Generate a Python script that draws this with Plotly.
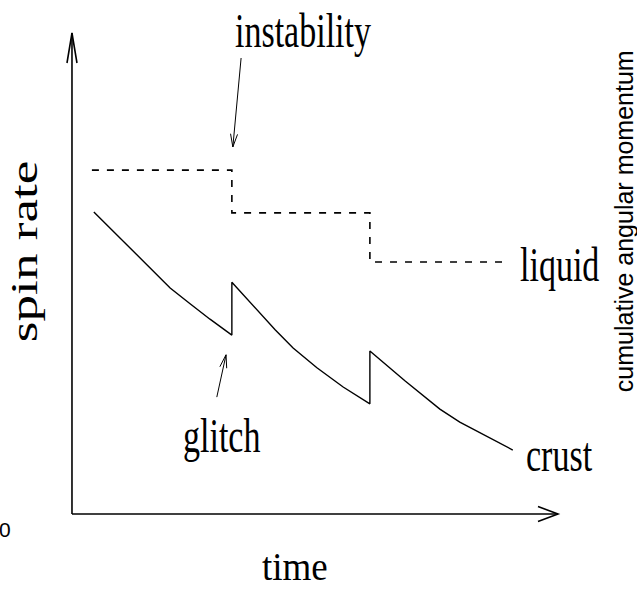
import plotly.graph_objects as go

# Crust spin rate: smooth spin-down interrupted by two glitches (arbitrary units)
crust_time = [0.45, 2.02, 2.43, 2.84, 3.29,
              3.29, 4.18, 4.55, 5.04, 5.58, 6.13,
              6.13, 6.85, 7.57, 7.98, 9.07]
crust_rate = [6.28, 4.70, 4.37, 4.05, 3.72,
              4.82, 3.83, 3.45, 3.04, 2.64, 2.29,
              3.39, 2.77, 2.18, 1.91, 1.33]

# Superfluid (liquid) spin rate: constant between instabilities, steps down at each
liquid_time = [0.41, 3.29, 3.29, 6.13, 6.13, 8.91]
liquid_rate = [7.15, 7.15, 6.26, 6.26, 5.24, 5.24]

# Extent of the drawn axes (arrow tips)
time_max = 10.0
rate_max = 10.0

# Text labels: (text, time, rate)
curve_labels = [("instability", 4.76, 10.06),
                ("liquid", 10.04, 5.18),
                ("crust", 10.04, 1.23),
                ("glitch", 3.07, 1.64)]
axis_titles = [("time", 4.59, -1.10, 0), ("spin rate", -0.98, 5.47, -90)]
side_labels = [("cumulative angular momentum", 11.36, 6.09, -90),
               ("0", -1.37, -0.33, 0)]

# Pointer arrows: (from time, from rate, to time, to rate)
pointers = [(3.48, 9.48, 3.31, 7.63),   # instability
            (2.98, 2.43, 3.17, 3.31)]   # glitch

W, H = 637, 590
XR = [-1.481, 11.626]
YR = [-1.580, 10.686]
PX = W / (XR[1] - XR[0])   # pixels per time unit
PY = H / (YR[1] - YR[0])   # pixels per rate unit

SERIF = "Liberation Serif"
SANS = "Liberation Sans"


def open_head(t0, w0, t1, w1, length, half):
    """Open V arrowhead at (t1, w1) pointing away from (t0, w0); sizes in px."""
    dx = (t1 - t0) * PX
    dy = (w1 - w0) * PY
    n = (dx * dx + dy * dy) ** 0.5
    ux, uy = dx / n, dy / n
    bx, by = -ux * length, -uy * length
    px, py = -uy * half, ux * half
    a = (t1 + (bx + px) / PX, w1 + (by + py) / PY)
    b = (t1 + (bx - px) / PX, w1 + (by - py) / PY)
    return f"M{a[0]},{a[1]} L{t1},{w1} L{b[0]},{b[1]}"


fig = go.Figure()

fig.add_trace(go.Scatter(x=liquid_time, y=liquid_rate, mode="lines",
                         line=dict(color="black", width=1.6, dash="7px,8px"),
                         hoverinfo="skip", showlegend=False))
fig.add_trace(go.Scatter(x=crust_time, y=crust_rate, mode="lines",
                         line=dict(color="black", width=1.4),
                         hoverinfo="skip", showlegend=False))

shapes = []
axis_line = dict(color="black", width=1.6)
# axes with open arrowheads
shapes.append(dict(type="line", x0=0, y0=0, x1=0, y1=rate_max, line=axis_line))
shapes.append(dict(type="line", x0=0, y0=0, x1=time_max, y1=0, line=axis_line))
shapes.append(dict(type="path", path=open_head(0, 0, 0, rate_max, 30, 5), line=axis_line))
shapes.append(dict(type="path", path=open_head(0, 0, time_max, 0, 20, 7.5), line=axis_line))
# pointer arrows
ptr_line = dict(color="black", width=1.0)
for t0, w0, t1, w1 in pointers:
    shapes.append(dict(type="line", x0=t0, y0=w0, x1=t1, y1=w1, line=ptr_line))
    shapes.append(dict(type="path", path=open_head(t0, w0, t1, w1, 13, 3.5), line=ptr_line))

annotations = []
stretch = []   # vertical on-screen stretch applied to each label
for text, t, w in curve_labels:
    annotations.append(dict(text=text, x=t, y=w, xref="x", yref="y", showarrow=False,
                            xanchor="center", yanchor="middle",
                            font=dict(family=SERIF, size=34, color="black")))
    stretch.append(1.4)
for text, t, w, ang in axis_titles:
    annotations.append(dict(text=text, x=t, y=w, xref="x", yref="y", showarrow=False,
                            xanchor="center", yanchor="middle", textangle=ang,
                            font=dict(family=SERIF, size=38 if ang else 37, color="black")))
    stretch.append(1.4 if ang else 1.08)
for text, t, w, ang in side_labels:
    annotations.append(dict(text=text, x=t, y=w, xref="x", yref="y", showarrow=False,
                            xanchor="center", yanchor="middle", textangle=ang,
                            font=dict(family=SANS, size=25 if ang else 21, color="black")))
    stretch.append(1.0)

fig.update_layout(
    width=W, height=H,
    margin=dict(l=0, r=0, t=0, b=0),
    paper_bgcolor="white", plot_bgcolor="white",
    xaxis=dict(range=XR, visible=False, fixedrange=True),
    yaxis=dict(range=YR, visible=False, fixedrange=True),
    shapes=shapes, annotations=annotations,
    showlegend=False,
    meta={"stretch": stretch},
)

# Tall, narrow serif lettering: stretch labels vertically on screen
post = """
var gd = document.getElementById('{plot_id}');
var anns = (gd.layout && gd.layout.annotations) || [];
var st = (gd.layout.meta && gd.layout.meta.stretch) || [];
gd.querySelectorAll('g.annotation').forEach(function(g){
  var i = +g.getAttribute('data-index');
  var a = anns[i];
  var S = st[i] || 1;
  if (!a || S === 1) return;
  var t = g.querySelector('text.annotation-text');
  if (!t) return;
  var b = t.getBBox();
  var cx = b.x + b.width / 2, cy = b.y + b.height / 2;
  var sx = 1, sy = S;
  if (Math.abs(a.textangle || 0) === 90) { sx = S; sy = 1; }
  var prev = t.getAttribute('transform') || '';
  t.setAttribute('transform', prev + ' translate(' + cx + ',' + cy + ') scale(' + sx + ',' + sy + ') translate(' + (-cx) + ',' + (-cy) + ')');
});
"""

fig.write_html("out.html", post_script=post, config={"staticPlot": True})
